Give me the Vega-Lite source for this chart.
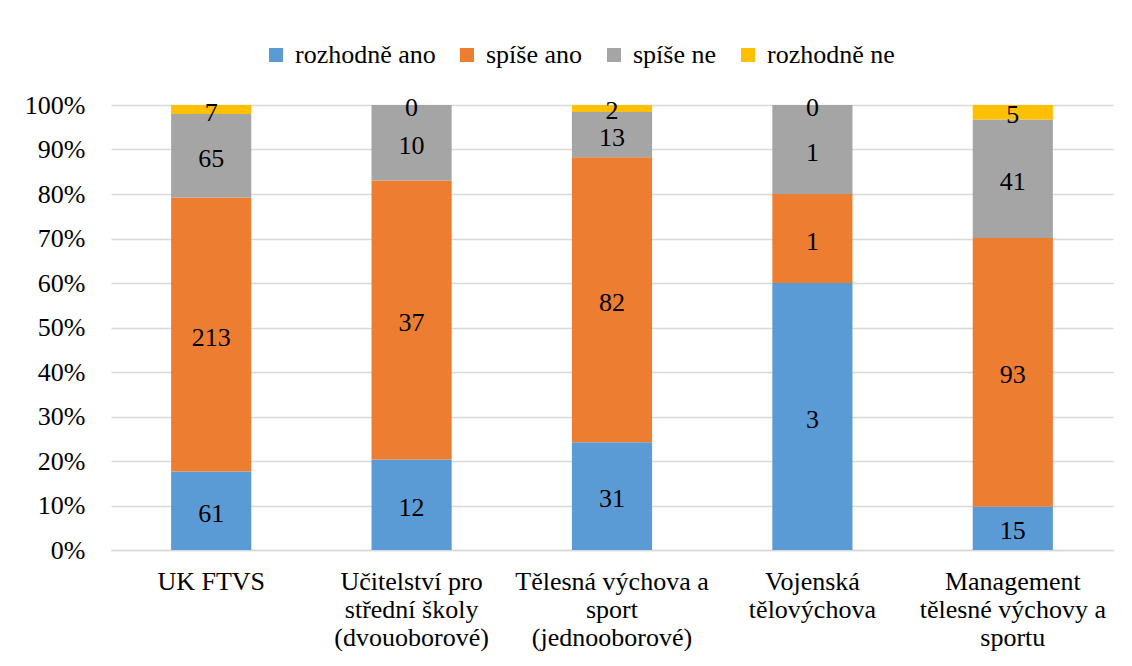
{
  "$schema": "https://vega.github.io/schema/vega-lite/v6.json",
  "width": 1002,
  "height": 445,
  "autosize": {"type": "none"},
  "padding": {"left": 111, "top": 105, "right": 19, "bottom": 116},
  "background": "white",
  "config": {
    "font": "Liberation Serif",
    "axis": {"labelFont": "Liberation Serif"},
    "legend": {"labelFont": "Liberation Serif"},
    "text": {"font": "Liberation Serif"},
    "view": {"stroke": null}
  },
  "data": {
    "values": [
      {"cat": "UK FTVS", "resp": "rozhodně ano", "o": 1, "n": 61},
      {"cat": "UK FTVS", "resp": "spíše ano", "o": 2, "n": 213},
      {"cat": "UK FTVS", "resp": "spíše ne", "o": 3, "n": 65},
      {"cat": "UK FTVS", "resp": "rozhodně ne", "o": 4, "n": 7},
      {"cat": "Učitelství pro střední školy (dvouoborové)", "resp": "rozhodně ano", "o": 1, "n": 12},
      {"cat": "Učitelství pro střední školy (dvouoborové)", "resp": "spíše ano", "o": 2, "n": 37},
      {"cat": "Učitelství pro střední školy (dvouoborové)", "resp": "spíše ne", "o": 3, "n": 10},
      {"cat": "Učitelství pro střední školy (dvouoborové)", "resp": "rozhodně ne", "o": 4, "n": 0},
      {"cat": "Tělesná výchova a sport (jednooborové)", "resp": "rozhodně ano", "o": 1, "n": 31},
      {"cat": "Tělesná výchova a sport (jednooborové)", "resp": "spíše ano", "o": 2, "n": 82},
      {"cat": "Tělesná výchova a sport (jednooborové)", "resp": "spíše ne", "o": 3, "n": 13},
      {"cat": "Tělesná výchova a sport (jednooborové)", "resp": "rozhodně ne", "o": 4, "n": 2},
      {"cat": "Vojenská tělovýchova", "resp": "rozhodně ano", "o": 1, "n": 3},
      {"cat": "Vojenská tělovýchova", "resp": "spíše ano", "o": 2, "n": 1},
      {"cat": "Vojenská tělovýchova", "resp": "spíše ne", "o": 3, "n": 1},
      {"cat": "Vojenská tělovýchova", "resp": "rozhodně ne", "o": 4, "n": 0},
      {"cat": "Management tělesné výchovy a sportu", "resp": "rozhodně ano", "o": 1, "n": 15},
      {"cat": "Management tělesné výchovy a sportu", "resp": "spíše ano", "o": 2, "n": 93},
      {"cat": "Management tělesné výchovy a sportu", "resp": "spíše ne", "o": 3, "n": 41},
      {"cat": "Management tělesné výchovy a sportu", "resp": "rozhodně ne", "o": 4, "n": 5}
    ]
  },
  "transform": [
    {"stack": "n", "groupby": ["cat"], "sort": [{"field": "o", "order": "ascending"}], "offset": "normalize", "as": ["y0", "y1"]},
    {"calculate": "(datum.y0 + datum.y1) / 2", "as": "ym"}
  ],
  "encoding": {
    "x": {
      "field": "cat",
      "type": "nominal",
      "sort": null,
      "title": null,
      "scale": {"paddingInner": 0.6, "paddingOuter": 0.3},
      "axis": {
        "labelAngle": 0,
        "labelFontSize": 26,
        "labelColor": "#000000",
        "labelLineHeight": 28,
        "labelPadding": 18,
        "labelLimit": 400,
        "labelOverlap": false,
        "ticks": false,
        "domainColor": "#d9d9d9",
        "domainWidth": 1.5,
        "labelExpr": "datum.value == 'UK FTVS' ? 'UK FTVS' : datum.value == 'Vojenská tělovýchova' ? ['Vojenská', 'tělovýchova'] : datum.value == 'Management tělesné výchovy a sportu' ? ['Management', 'tělesné výchovy a', 'sportu'] : datum.value == 'Tělesná výchova a sport (jednooborové)' ? ['Tělesná výchova a', 'sport', '(jednooborové)'] : ['Učitelství pro', 'střední školy', '(dvouoborové)']"
      }
    }
  },
  "layer": [
    {
      "mark": {"type": "bar"},
      "encoding": {
        "y": {
          "field": "y0",
          "type": "quantitative",
          "title": null,
          "scale": {"domain": [0, 1]},
          "axis": {
            "format": ".0%",
            "values": [0, 0.1, 0.2, 0.3, 0.4, 0.5, 0.6, 0.7, 0.8, 0.9, 1],
            "labelFontSize": 26,
            "labelColor": "#000000",
            "labelPadding": 26,
            "ticks": false,
            "domain": false,
            "gridColor": "#d9d9d9",
            "gridWidth": 1.5
          }
        },
        "y2": {"field": "y1"},
        "color": {
          "field": "resp",
          "type": "nominal",
          "sort": ["rozhodně ano", "spíše ano", "spíše ne", "rozhodně ne"],
          "scale": {
            "domain": ["rozhodně ano", "spíše ano", "spíše ne", "rozhodně ne"],
            "range": ["#5b9bd5", "#ed7d31", "#a5a5a5", "#ffc000"]
          },
          "legend": {
            "title": null,
            "orient": "none",
            "legendX": 152,
            "legendY": -63,
            "direction": "horizontal",
            "symbolType": "square",
            "symbolSize": 196,
            "symbolStrokeWidth": 0,
            "labelFontSize": 26,
            "labelColor": "#000000",
            "labelOffset": 6,
            "columnPadding": 18
          }
        }
      }
    },
    {
      "mark": {"type": "text", "fontSize": 26, "color": "#000000", "baseline": "middle", "dy": 3},
      "encoding": {
        "y": {"field": "ym", "type": "quantitative"},
        "text": {"field": "n", "type": "quantitative"}
      }
    }
  ]
}
